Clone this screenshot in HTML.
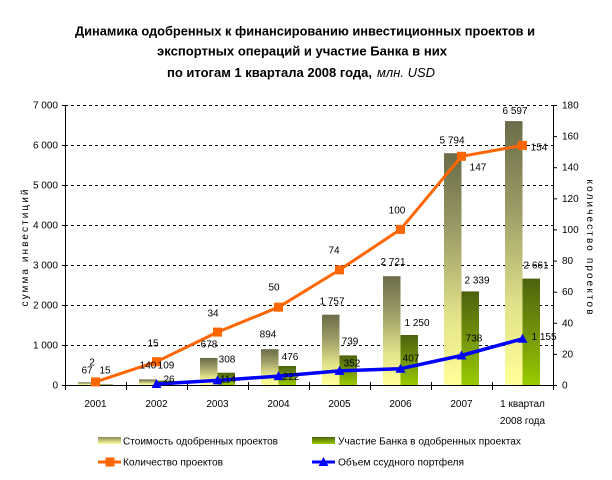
<!DOCTYPE html>
<html><head><meta charset="utf-8"><style>
html,body{margin:0;padding:0;background:#fff;}
svg{display:block;}
text{font-family:"Liberation Sans",Arial,sans-serif;}
</style></head><body>
<svg width="612" height="480" viewBox="0 0 612 480" xmlns="http://www.w3.org/2000/svg">
<defs>
<linearGradient id="lg" x1="0" y1="0" x2="0" y2="1">
<stop offset="0" stop-color="#6b6b48"/>
<stop offset="0.35" stop-color="#9e9e68"/>
<stop offset="0.7" stop-color="#e2e28a"/>
<stop offset="1" stop-color="#ffff99"/>
</linearGradient>
<linearGradient id="gg" x1="0" y1="0" x2="0" y2="1">
<stop offset="0" stop-color="#4b620e"/>
<stop offset="0.5" stop-color="#72930a"/>
<stop offset="1" stop-color="#99cc00"/>
</linearGradient>
<linearGradient id="lgs" x1="0" y1="0" x2="0" y2="1">
<stop offset="0" stop-color="#8a8a5a"/>
<stop offset="1" stop-color="#ffff99"/>
</linearGradient>
<linearGradient id="ggs" x1="0" y1="0" x2="0" y2="1">
<stop offset="0" stop-color="#4b620e"/>
<stop offset="1" stop-color="#99cc00"/>
</linearGradient>
</defs>

<!-- Title -->
<text x="75" y="35.5" font-size="12.5" font-weight="bold" textLength="460" lengthAdjust="spacingAndGlyphs">Динамика одобренных к финансированию инвестиционных проектов и</text>
<text x="157" y="55.5" font-size="12.5" font-weight="bold" textLength="290" lengthAdjust="spacingAndGlyphs">экспортных операций и участие Банка в них</text>
<text x="167" y="77" font-size="12.5" font-weight="bold" textLength="205" lengthAdjust="spacingAndGlyphs">по итогам 1 квартала 2008 года,</text>
<text x="377" y="77" font-size="12.5" font-style="italic" textLength="58" lengthAdjust="spacingAndGlyphs">млн. USD</text>

<!-- Gridlines -->
<g stroke="#000" stroke-width="1" stroke-dasharray="3,3">
<line x1="65" y1="105.5" x2="553" y2="105.5"/>
<line x1="65" y1="145.5" x2="553" y2="145.5"/>
<line x1="65" y1="185.5" x2="553" y2="185.5"/>
<line x1="65" y1="225.5" x2="553" y2="225.5"/>
<line x1="65" y1="265.5" x2="553" y2="265.5"/>
<line x1="65" y1="305.5" x2="553" y2="305.5"/>
<line x1="65" y1="345.5" x2="553" y2="345.5"/>
</g>

<!-- Bars -->
<g>
<rect x="78" y="382.3" width="17.5" height="2.7" fill="url(#lg)"/>
<rect x="95.5" y="384.4" width="17.5" height="0.6" fill="url(#gg)"/>
<rect x="139" y="379.4" width="17.5" height="5.6" fill="url(#lg)"/>
<rect x="156.5" y="380.6" width="17.5" height="4.4" fill="url(#gg)"/>
<rect x="200" y="357.9" width="17.5" height="27.1" fill="url(#lg)"/>
<rect x="217.5" y="372.7" width="17.5" height="12.3" fill="url(#gg)"/>
<rect x="261" y="349.2" width="17.5" height="35.8" fill="url(#lg)"/>
<rect x="278.5" y="366" width="17.5" height="19" fill="url(#gg)"/>
<rect x="322" y="314.7" width="17.5" height="70.3" fill="url(#lg)"/>
<rect x="339.5" y="355.4" width="17.5" height="29.6" fill="url(#gg)"/>
<rect x="383" y="276.2" width="17.5" height="108.8" fill="url(#lg)"/>
<rect x="400.5" y="335" width="17.5" height="50" fill="url(#gg)"/>
<rect x="444" y="153.2" width="17.5" height="231.8" fill="url(#lg)"/>
<rect x="461.5" y="291.4" width="17.5" height="93.6" fill="url(#gg)"/>
<rect x="505" y="121.1" width="17.5" height="263.9" fill="url(#lg)"/>
<rect x="522.5" y="278.6" width="17.5" height="106.4" fill="url(#gg)"/>
</g>

<!-- Axes -->
<g stroke="#000" stroke-width="1">
<line x1="65.5" y1="105" x2="65.5" y2="385"/>
<line x1="553.5" y1="105" x2="553.5" y2="385"/>
<line x1="65" y1="385.5" x2="554" y2="385.5"/>
<!-- left ticks -->
<line x1="62" y1="105.5" x2="65" y2="105.5"/>
<line x1="62" y1="145.5" x2="65" y2="145.5"/>
<line x1="62" y1="185.5" x2="65" y2="185.5"/>
<line x1="62" y1="225.5" x2="65" y2="225.5"/>
<line x1="62" y1="265.5" x2="65" y2="265.5"/>
<line x1="62" y1="305.5" x2="65" y2="305.5"/>
<line x1="62" y1="345.5" x2="65" y2="345.5"/>
<line x1="62" y1="385.5" x2="65" y2="385.5"/>
<!-- right ticks (0..180 step 20) -->
<line x1="553" y1="105.5" x2="557" y2="105.5"/>
<line x1="553" y1="136.6" x2="557" y2="136.6"/>
<line x1="553" y1="167.7" x2="557" y2="167.7"/>
<line x1="553" y1="198.8" x2="557" y2="198.8"/>
<line x1="553" y1="229.9" x2="557" y2="229.9"/>
<line x1="553" y1="261.1" x2="557" y2="261.1"/>
<line x1="553" y1="292.2" x2="557" y2="292.2"/>
<line x1="553" y1="323.3" x2="557" y2="323.3"/>
<line x1="553" y1="354.4" x2="557" y2="354.4"/>
<line x1="553" y1="385.5" x2="557" y2="385.5"/>
<!-- category ticks -->
<line x1="65.5" y1="382" x2="65.5" y2="390"/>
<line x1="126.5" y1="382" x2="126.5" y2="390"/>
<line x1="187.5" y1="382" x2="187.5" y2="390"/>
<line x1="248.5" y1="382" x2="248.5" y2="390"/>
<line x1="309.5" y1="382" x2="309.5" y2="390"/>
<line x1="370.5" y1="382" x2="370.5" y2="390"/>
<line x1="431.5" y1="382" x2="431.5" y2="390"/>
<line x1="492.5" y1="382" x2="492.5" y2="390"/>
<line x1="553.5" y1="382" x2="553.5" y2="390"/>
</g>

<!-- Blue line (loan portfolio, left axis) -->
<polyline points="156.5,384 217.5,380.4 278.5,376.1 339.5,370.9 400.5,368.7 461.5,355.5 522.5,338.8" fill="none" stroke="#0000ff" stroke-width="3.5" stroke-linejoin="round"/>
<g fill="#0000ff">
<polygon points="156.5,379 151.5,388 161.5,388"/>
<polygon points="217.5,375.4 212.5,384.4 222.5,384.4"/>
<polygon points="278.5,371.1 273.5,380.1 283.5,380.1"/>
<polygon points="339.5,365.9 334.5,374.9 344.5,374.9"/>
<polygon points="400.5,363.7 395.5,372.7 405.5,372.7"/>
<polygon points="461.5,350.5 456.5,359.5 466.5,359.5"/>
<polygon points="522.5,333.8 517.5,342.8 527.5,342.8"/>
</g>

<!-- Orange line (projects, right axis) -->
<polyline points="95.5,381.9 156.5,361.7 217.5,332.1 278.5,307.2 339.5,269.9 400.5,229.4 461.5,156.3 522.5,145.4" fill="none" stroke="#ff6600" stroke-width="3" stroke-linejoin="round"/>
<g fill="#ff6600">
<rect x="91" y="377.4" width="9" height="9"/>
<rect x="152" y="357.2" width="9" height="9"/>
<rect x="213" y="327.6" width="9" height="9"/>
<rect x="274" y="302.7" width="9" height="9"/>
<rect x="335" y="265.4" width="9" height="9"/>
<rect x="396" y="224.9" width="9" height="9"/>
<rect x="457" y="151.8" width="9" height="9"/>
<rect x="518" y="140.9" width="9" height="9"/>
</g>

<!-- Left axis labels -->
<g font-size="10" text-anchor="end" fill="#000">
<text x="58" y="108.5">7 000</text>
<text x="58" y="148.5">6 000</text>
<text x="58" y="188.5">5 000</text>
<text x="58" y="228.5">4 000</text>
<text x="58" y="268.5">3 000</text>
<text x="58" y="308.5">2 000</text>
<text x="58" y="348.5">1 000</text>
<text x="58" y="388.5">0</text>
</g>
<!-- Right axis labels -->
<g font-size="10" fill="#000">
<text x="562" y="108.5">180</text>
<text x="562" y="139.6">160</text>
<text x="562" y="170.7">140</text>
<text x="562" y="201.8">120</text>
<text x="562" y="232.9">100</text>
<text x="562" y="264.1">80</text>
<text x="562" y="295.2">60</text>
<text x="562" y="326.3">40</text>
<text x="562" y="357.4">20</text>
<text x="562" y="388.5">0</text>
</g>

<!-- Axis titles -->
<text transform="translate(28,248) rotate(-90)" font-size="10" text-anchor="middle" textLength="117" lengthAdjust="spacing">сумма инвестиций</text>
<text transform="translate(587,247) rotate(90)" font-size="10" text-anchor="middle" textLength="135" lengthAdjust="spacing">количество проектов</text>

<!-- Category labels -->
<g font-size="10" text-anchor="middle" fill="#000">
<text x="95.5" y="407">2001</text>
<text x="156.5" y="407">2002</text>
<text x="217.5" y="407">2003</text>
<text x="278.5" y="407">2004</text>
<text x="339.5" y="407">2005</text>
<text x="400.5" y="407">2006</text>
<text x="461.5" y="407">2007</text>
<text x="522.5" y="407">1 квартал</text>
<text x="522.5" y="424">2008 года</text>
</g>

<!-- Data labels -->
<g font-size="10" text-anchor="middle" fill="#000">
<!-- 2001 -->
<text x="87" y="373.5">67</text>
<text x="92" y="365.5">2</text>
<text x="105" y="373.5">15</text>
<!-- 2002 -->
<text x="153" y="346.5">15</text>
<text x="148" y="368.5">140</text>
<text x="166" y="368.5">109</text>
<text x="169" y="382.5">26</text>
<!-- 2003 -->
<text x="213" y="316.5">34</text>
<text x="209" y="347.5">678</text>
<text x="227" y="362.5">308</text>
<text x="228" y="382.5">114</text>
<!-- 2004 -->
<text x="274" y="290.5">50</text>
<text x="268" y="337.5">894</text>
<text x="290" y="360">476</text>
<text x="291" y="380">222</text>
<!-- 2005 -->
<text x="334" y="253.5">74</text>
<text x="332" y="304.5">1 757</text>
<text x="350" y="344.5">739</text>
<text x="352" y="366.5">352</text>
<!-- 2006 -->
<text x="397" y="213.5">100</text>
<text x="393" y="265">2 721</text>
<text x="417" y="326">1 250</text>
<text x="411" y="361.5">407</text>
<!-- 2007 -->
<text x="452" y="143.5">5 794</text>
<text x="478" y="170.5">147</text>
<text x="477" y="283.5">2 339</text>
<text x="474" y="341.5">738</text>
<!-- 2008 -->
<text x="515" y="114">6 597</text>
<text x="539" y="150.5">154</text>
<text x="536" y="268.5">2 661</text>
<text x="544" y="340">1 155</text>
</g>

<!-- Legend -->
<rect x="98" y="437" width="23" height="7" fill="url(#lgs)"/>
<text x="123" y="444.5" font-size="10" textLength="155" lengthAdjust="spacingAndGlyphs">Стоимость одобренных проектов</text>
<rect x="312" y="437" width="23" height="7" fill="url(#ggs)"/>
<text x="338" y="444.5" font-size="10" textLength="183" lengthAdjust="spacingAndGlyphs">Участие Банка в одобренных проектах</text>

<line x1="98" y1="462" x2="121" y2="462" stroke="#ff6600" stroke-width="3"/>
<rect x="105.5" y="457.5" width="9" height="9" fill="#ff6600"/>
<text x="123" y="465.5" font-size="10" textLength="100" lengthAdjust="spacingAndGlyphs">Количество проектов</text>
<line x1="312" y1="462" x2="335" y2="462" stroke="#0000ff" stroke-width="3"/>
<polygon points="323.5,457 318.5,466 328.5,466" fill="#0000ff"/>
<text x="338" y="465.5" font-size="10" textLength="126" lengthAdjust="spacingAndGlyphs">Объем ссудного портфеля</text>
</svg>
</body></html>
